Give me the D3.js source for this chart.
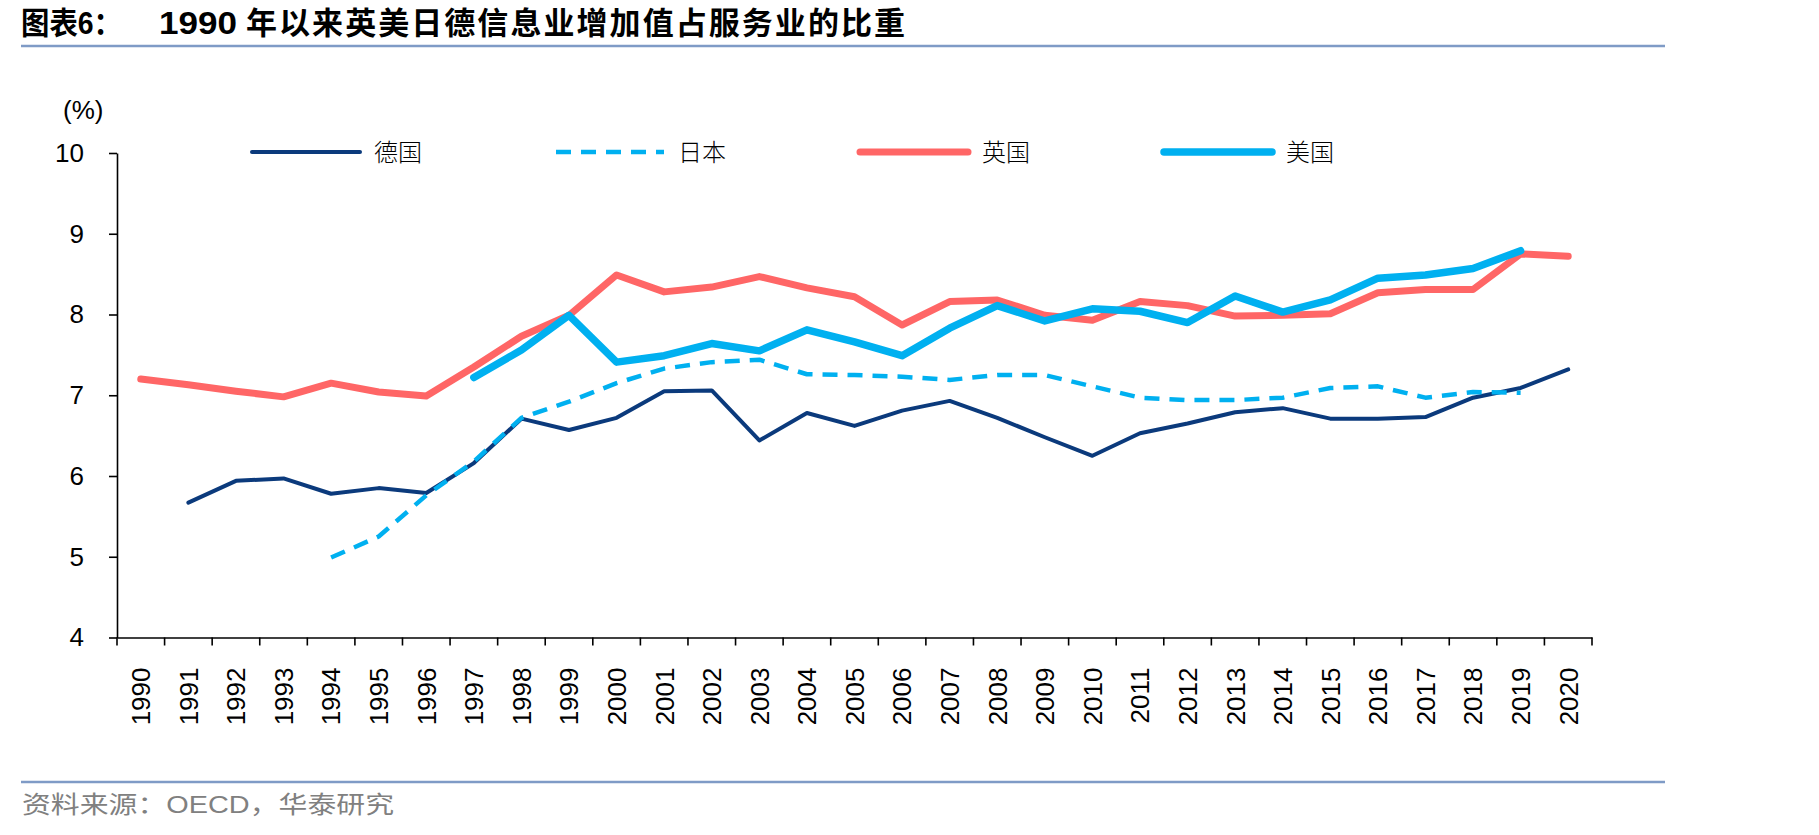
<!DOCTYPE html>
<html>
<head>
<meta charset="utf-8">
<script src="https://cdn.jsdelivr.net/npm/d3@7"></script>
<style>
  body { margin: 0; background: #fff; }
  text { font-family: "Liberation Sans", "Noto Sans CJK SC", sans-serif; }
</style>
</head>
<body>
<div id="chart"></div>
<script>
var width = 1819,
    height = 835;

// data (null = no value)
var years = d3.range(1990, 2021).map(String);
var germany = [null, 5.67, 5.94, 5.97, 5.78, 5.85, 5.79, 6.16, 6.71, 6.57, 6.72, 7.05, 7.06, 6.44, 6.78, 6.62,
  6.81, 6.93, 6.72, 6.48, 6.25, 6.53, 6.65, 6.79, 6.84, 6.71, 6.71, 6.73, 6.97, 7.09, 7.32];
var japan = [null, null, null, null, 4.99, 5.25, 5.76, 6.18, 6.72, 6.92, 7.15, 7.33, 7.41, 7.44, 7.26, 7.25,
  7.23, 7.19, 7.25, 7.25, 7.11, 6.97, 6.94, 6.94, 6.97, 7.09, 7.11, 6.97, 7.04, 7.03, null];
var uk = [7.20, 7.13, 7.05, 6.98, 7.15, 7.04, 6.99, 7.35, 7.73, 7.99, 8.49, 8.28, 8.34, 8.47, 8.33, 8.22,
  7.87, 8.16, 8.18, 7.99, 7.93, 8.16, 8.11, 7.98, 7.99, 8.01, 8.27, 8.31, 8.31, 8.75, 8.72];
var us = [null, null, null, null, null, null, null, 7.22, 7.56, 7.99, 7.41, 7.49, 7.64, 7.55, 7.81, 7.66,
  7.49, 7.83, 8.11, 7.92, 8.07, 8.04, 7.90, 8.23, 8.03, 8.18, 8.45, 8.49, 8.57, 8.79, null];
var seriesNames = ["德国", "日本", "英国", "美国"];
var yTicks = [4, 5, 6, 7, 8, 9, 10];

var title1 = "图表6：",
    titleYear = "1990",
    title2 = "年以来英美日德信息业增加值占服务业的比重",
    source = "资料来源：OECD，华泰研究";

// styles per series
var styles = [
  {color: "#0b3a7c", w: 4, dash: null},
  {color: "#00b0f0", w: 4.5, dash: "15,10"},
  {color: "#ff6666", w: 7, dash: null},
  {color: "#00b0f0", w: 7.5, dash: null}
];
var allSeries = [germany, japan, uk, us];

var svg = d3.select('#chart').append('svg')
  .attr('width', width)
  .attr('height', height);

svg.append("rect").attr("width", width).attr("height", height).attr("fill", "#fff");

// title
svg.append("text").attr("x", 21).attr("y", 34)
  .attr("font-size", 31).attr("font-weight", "bold").attr("fill", "#000")
  .attr("textLength", 101).attr("lengthAdjust", "spacingAndGlyphs")
  .text(title1);
svg.append("text").attr("x", 159).attr("y", 34)
  .attr("font-size", 31).attr("font-weight", "bold").attr("fill", "#000")
  .attr("textLength", 78).attr("lengthAdjust", "spacingAndGlyphs")
  .text(titleYear);
svg.append("text").attr("x", 246).attr("y", 34)
  .attr("font-size", 31).attr("font-weight", "bold").attr("fill", "#000")
  .attr("textLength", 659).attr("lengthAdjust", "spacing")
  .text(title2);
svg.append("line").attr("x1", 21).attr("x2", 1665).attr("y1", 46).attr("y2", 46)
  .attr("stroke", "#7f9bc6").attr("stroke-width", 2.5);

// footer
svg.append("line").attr("x1", 21).attr("x2", 1665).attr("y1", 782).attr("y2", 782)
  .attr("stroke", "#7f9bc6").attr("stroke-width", 2.5);
svg.append("text").attr("x", 22).attr("y", 813)
  .attr("font-size", 24).attr("fill", "#808080")
  .attr("textLength", 372).attr("lengthAdjust", "spacingAndGlyphs")
  .text(source);

// scales
var x0 = 117, x1 = 1592, yTop = 153, yBot = 637.5;
var scaleX = d3.scaleBand().domain(years).range([x0, x1]).padding(0);
var scaleY = d3.scaleLinear().domain([4, 10]).range([yBot, yTop]);

// y axis
var axisY = svg.append("g").attr("transform", "translate(" + x0 + ",0)")
  .call(d3.axisLeft(scaleY).tickValues(yTicks).tickFormat(d3.format("d"))
    .tickSize(8).tickPadding(25).tickSizeOuter(0));
axisY.selectAll("text").attr("font-size", 26).attr("fill", "#000")
  .style("font-family", "Liberation Sans, sans-serif");
axisY.selectAll("line, path").attr("stroke", "#000").attr("stroke-width", 1.6);

svg.append("text").attr("x", 63).attr("y", 119)
  .attr("font-size", 26).attr("fill", "#000").text("(%)");

// x axis: labels at category centres, ticks at boundaries
var axisX = svg.append("g").attr("transform", "translate(0," + yBot + ")")
  .call(d3.axisBottom(scaleX).tickSize(0).tickPadding(0).tickSizeOuter(0));
axisX.select(".domain").attr("stroke", "#000").attr("stroke-width", 1.6);
axisX.selectAll(".tick text")
  .attr("font-size", 26).attr("fill", "#000")
  .style("font-family", "Liberation Sans, sans-serif")
  .attr("text-anchor", "end")
  .attr("transform", "rotate(-90)")
  .attr("x", -30).attr("y", 0).attr("dy", "0.36em");

var bounds = years.map(function(d) { return scaleX(d); }).concat([x1]);
axisX.selectAll(".btick").data(bounds).enter().append("line")
  .attr("class", "btick")
  .attr("x1", d => d).attr("x2", d => d)
  .attr("y1", 0).attr("y2", 8)
  .attr("stroke", "#000").attr("stroke-width", 1.6);

// lines
var lineFunc = d3.line()
  .defined(d => d.v !== null)
  .x(d => scaleX(d.year) + scaleX.bandwidth() / 2)
  .y(d => scaleY(d.v));

var g = svg.append("g");
allSeries.forEach(function(s, i) {
  var pts = s.map(function(v, j) { return {year: years[j], v: v}; });
  g.append("path")
    .datum(pts)
    .attr("d", lineFunc)
    .attr("fill", "none")
    .attr("stroke", styles[i].color)
    .attr("stroke-width", styles[i].w)
    .attr("stroke-dasharray", styles[i].dash)
    .attr("stroke-linecap", styles[i].dash ? "butt" : "round")
    .attr("stroke-linejoin", "round");
});

// legend
var legend = svg.append("g").attr("transform", "translate(252,152)");
seriesNames.forEach(function(name, i) {
  var lx = i * 304;
  legend.append("line")
    .attr("x1", lx).attr("x2", lx + 108).attr("y1", 0).attr("y2", 0)
    .attr("stroke", styles[i].color)
    .attr("stroke-width", styles[i].w)
    .attr("stroke-dasharray", styles[i].dash)
    .attr("stroke-linecap", styles[i].dash ? "butt" : "round");
  legend.append("text")
    .attr("x", lx + 122).attr("y", 0).attr("dy", "0.36em")
    .attr("font-size", 24).attr("fill", "#000")
    .style("font-family", "Noto Sans CJK SC, sans-serif")
    .style("font-weight", 300)
    .text(name);
});
</script>
</body>
</html>
